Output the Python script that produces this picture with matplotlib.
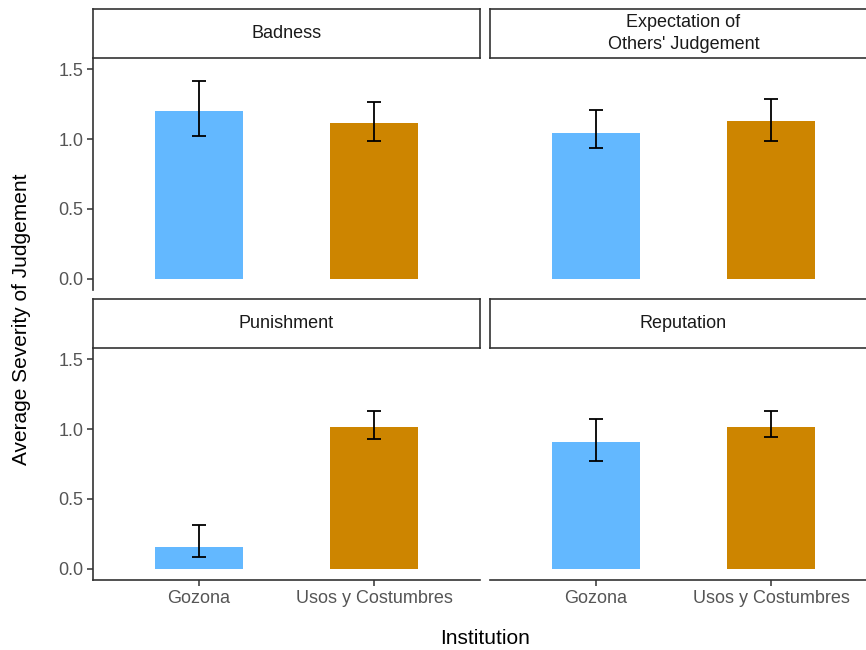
import matplotlib
matplotlib.use("Agg")
import matplotlib.pyplot as plt
import numpy as np

plt.rcParams['font.family'] = ['Liberation Sans', 'DejaVu Sans']

# Facet names, groups and summary values (mean with interval bounds)
facets = ["Badness", "Expectation of\nOthers' Judgement", "Punishment", "Reputation"]
institutions = ["Gozona", "Usos y Costumbres"]
gozona_mean = [1.200, 1.040, 0.157, 0.904]
gozona_low = [1.021, 0.933, 0.088, 0.771]
gozona_high = [1.414, 1.205, 0.316, 1.069]
usos_mean = [1.112, 1.126, 1.014, 1.016]
usos_low = [0.986, 0.986, 0.929, 0.943]
usos_high = [1.262, 1.288, 1.131, 1.129]
y_ticks = [0.0, 0.5, 1.0, 1.5]

bar_colors = ["#63B8FF", "#CD8500"]

W, H = 866, 650
fig = plt.figure(figsize=(W / 100, H / 100), dpi=100)


def px_axes(x0, y0, x1, y1):
    # rectangle given in pixel coordinates measured from the top-left corner
    return fig.add_axes([x0 / W, 1 - y1 / H, (x1 - x0) / W, (y1 - y0) / H])


cols = [(93, 480), (490, 877)]
rows = [((9, 58), (58, 290)), ((299, 348), (348, 580))]
line_c = "#333333"

for i, name in enumerate(facets):
    r, c = divmod(i, 2)
    (sy0, sy1), (py0, py1) = rows[r]
    x0, x1 = cols[c]

    ax = px_axes(x0, py0, x1, py1)
    pos = np.arange(1, len(institutions) + 1)
    means = [gozona_mean[i], usos_mean[i]]
    lows = [gozona_low[i], usos_low[i]]
    highs = [gozona_high[i], usos_high[i]]
    ax.bar(pos, means, width=0.5, color=bar_colors, zorder=1)
    yerr = np.array([[m - lo for m, lo in zip(means, lows)],
                     [hi - m for m, hi in zip(means, highs)]])
    ax.errorbar(pos, means, yerr=yerr, fmt="none", ecolor="black",
                elinewidth=1.3, capsize=4.7, capthick=1.3, zorder=2)
    ax.set_xlim(0.4, 2.6)
    ax.set_ylim(-0.079, 1.579)
    for s in ["top", "right"]:
        ax.spines[s].set_visible(False)
    ax.spines["left"].set_visible(c == 0)
    ax.spines["bottom"].set_visible(r == 1)
    for s in ["left", "bottom"]:
        ax.spines[s].set_linewidth(1.2)
        ax.spines[s].set_color(line_c)
    ax.set_yticks(y_ticks)
    ax.set_yticklabels([f"{t:.1f}" for t in y_ticks])
    ax.set_xticks(pos)
    ax.set_xticklabels(institutions)
    ax.tick_params(axis="both", labelsize=13, colors=line_c, labelcolor="#555555",
                   length=4, width=1.1, pad=3)
    if c == 1:
        ax.tick_params(axis="y", left=False, labelleft=False)
    if r == 0:
        ax.tick_params(axis="x", bottom=False, labelbottom=False)
    ax.patch.set_visible(False)

    sx = px_axes(x0, sy0, x1, sy1)
    sx.set_xticks([])
    sx.set_yticks([])
    for s in sx.spines.values():
        s.set_linewidth(1.2)
        s.set_color(line_c)
    sx.text(0.5, 0.5, name, ha="center", va="center", fontsize=13,
            color="#1A1A1A", transform=sx.transAxes, linespacing=1.4)

fig.text(22 / W, 1 - 319 / H, "Average Severity of Judgement", rotation=90,
         ha="center", va="center", fontsize=15, color="black")
fig.text(485 / W, 1 - 638 / H, "Institution", ha="center", va="center",
         fontsize=15, color="black")

fig.savefig("out.png", dpi=100, facecolor="white")
